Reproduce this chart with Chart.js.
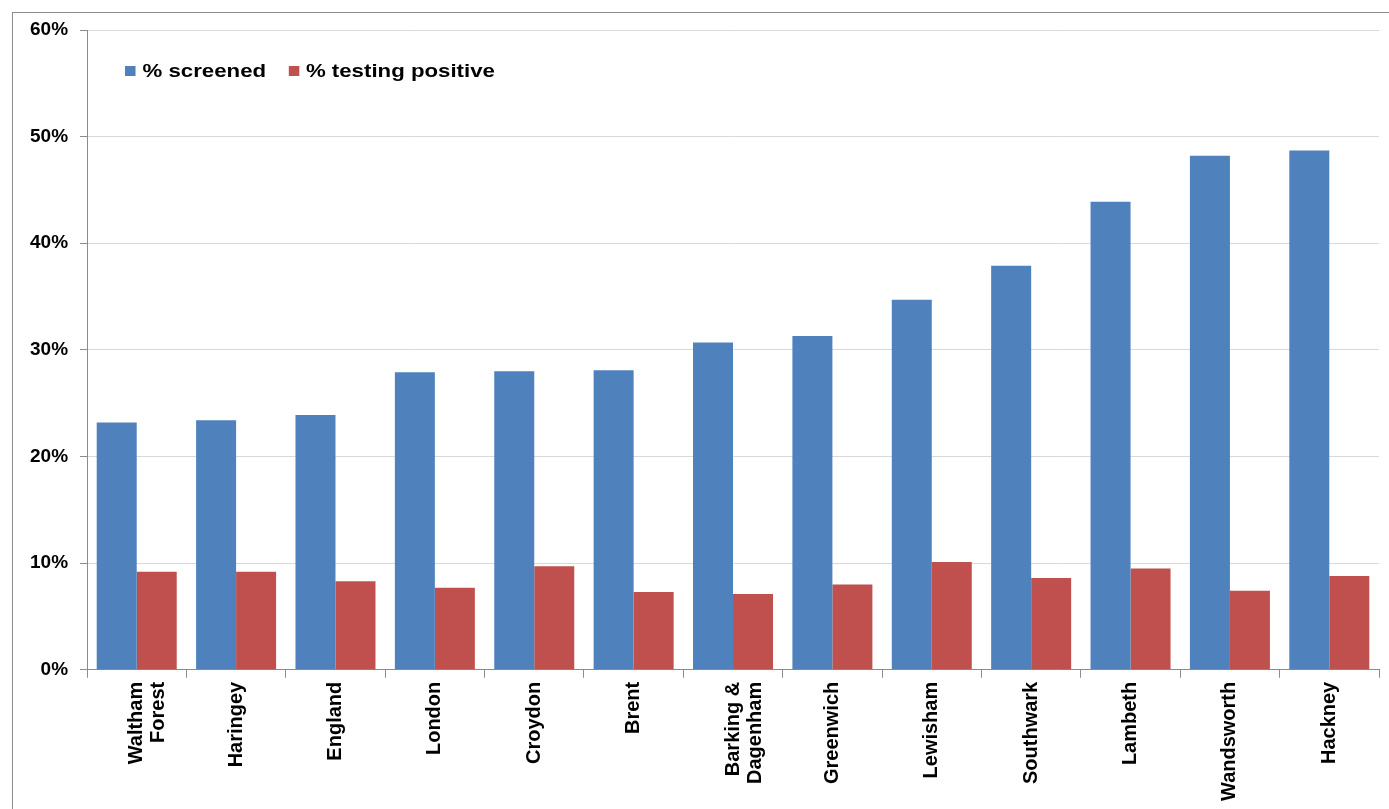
<!DOCTYPE html>
<html>
<head>
<meta charset="utf-8">
<script src="https://cdn.jsdelivr.net/npm/chart.js@4/dist/chart.umd.min.js"></script>
<style>
  html, body { margin: 0; padding: 0; background: #fff; }
  #wrap { position: relative; width: 1389px; height: 809px; overflow: hidden; }
  #frame { position: absolute; left: 12px; top: 12px; width: 1500px; height: 900px;
           border-left: 1px solid #8c8c8c; border-top: 1px solid #8c8c8c; box-sizing: border-box; }
  canvas { position: absolute; left: 0; top: 0; }
  #legend { position: absolute; left: 125px; top: 60px; font: bold 19px "Liberation Sans", Arial, sans-serif;
            color: #000; display: flex; align-items: center; white-space: nowrap;
            transform: scaleX(1.17); transform-origin: left center; }
  .sw { display: inline-block; width: 9px; height: 10px; margin-right: 6px; }
  .item { display: flex; align-items: center; margin-right: 19px; }
</style>
</head>
<body>
<div id="wrap">
  <div id="frame"></div>
  <canvas id="c" width="1389" height="809"></canvas>
  <div id="legend"></div>
</div>
<script>
const categories = [
  ["Waltham", "Forest"], "Haringey", "England", "London", "Croydon", "Brent",
  ["Barking &", "Dagenham"], "Greenwich", "Lewisham", "Southwark", "Lambeth", "Wandsworth", "Hackney"
];
const screened = [23.2, 23.4, 23.9, 27.9, 28.0, 28.1, 30.7, 31.3, 34.7, 37.9, 43.9, 48.2, 48.7];
const positive = [9.2, 9.2, 8.3, 7.7, 9.7, 7.3, 7.1, 8.0, 10.1, 8.6, 9.5, 7.4, 8.8];
const seriesNames = ["% screened", "% testing positive"];
const seriesColors = ["#4F81BD", "#C0504D"];
const yTicks = [0, 10, 20, 30, 40, 50, 60];

const legend = document.getElementById('legend');
seriesNames.forEach((n, i) => {
  const it = document.createElement('span');
  it.className = 'item';
  const sw = document.createElement('span');
  sw.className = 'sw';
  sw.style.background = seriesColors[i];
  it.appendChild(sw);
  it.appendChild(document.createTextNode(n));
  legend.appendChild(it);
});

new Chart(document.getElementById('c'), {
  type: 'bar',
  data: {
    labels: categories,
    datasets: [
      { label: seriesNames[0], data: screened, backgroundColor: seriesColors[0], borderWidth: 0 },
      { label: seriesNames[1], data: positive, backgroundColor: seriesColors[1], borderWidth: 0 }
    ]
  },
  options: {
    responsive: false,
    animation: false,
    events: [],
    layout: { padding: { left: 18, top: 30, right: 10, bottom: 4 } },
    plugins: { legend: { display: false }, tooltip: { enabled: false } },
    datasets: { bar: { categoryPercentage: 0.805, barPercentage: 1.0 } },
    scales: {
      x: {
        grid: { display: true, drawOnChartArea: false, drawTicks: true, tickLength: 8, color: '#8c8c8c', offset: true },
        border: { color: '#8c8c8c', width: 1 },
        ticks: {
          minRotation: 90, maxRotation: 90, autoSkip: false, padding: 4,
          color: '#000',
          font: { family: '"Liberation Sans", Arial, sans-serif', size: 20, weight: 'bold', lineHeight: 1.1 }
        }
      },
      y: {
        min: 0, max: 60,
        afterBuildTicks: (axis) => { axis.ticks = yTicks.map(v => ({ value: v })); },
        grid: { color: '#d9d9d9', tickLength: 7, tickColor: '#8c8c8c' },
        border: { color: '#8c8c8c', width: 1 },
        ticks: {
          padding: 12, color: '#000',
          callback: (v) => v + '%',
          font: { family: '"Liberation Sans", Arial, sans-serif', size: 19, weight: 'bold' }
        }
      }
    }
  }
});
</script>
</body>
</html>
